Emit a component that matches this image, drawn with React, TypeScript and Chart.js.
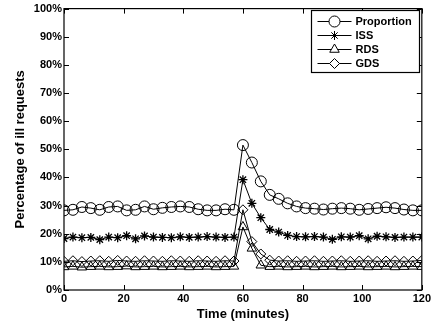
import React, { useEffect, useRef } from "react";
import { Chart, registerables } from "chart.js";
import { drawPoint } from "chart.js/helpers";

Chart.register(...registerables);

const minutes = [0,3,6,9,12,15,18,21,24,27,30,33,36,39,42,45,48,51,54,57,60,63,66,69,72,75,78,81,84,87,90,93,96,99,102,105,108,111,114,117,120];

const proportion = [28.3,28.5,29.5,29.1,28.5,29.5,29.7,28.3,28.5,29.7,28.7,29.2,29.5,29.7,29.5,28.7,28.3,28.3,28.7,28.5,51.5,45.3,38.6,33.8,32.4,30.8,29.7,29.1,28.9,28.6,28.9,29.1,28.9,28.5,28.8,29.1,29.4,29.1,28.6,28.3,28.3];

const iss = [18.3,18.8,18.6,18.7,17.9,18.8,18.6,19.3,18.2,19.2,18.8,18.7,18.6,18.9,18.7,18.8,19.0,18.8,18.7,18.8,39.2,30.8,25.7,21.5,20.6,19.4,19.0,18.9,19.0,18.8,18.0,18.9,18.8,19.3,18.2,19.1,18.9,18.7,18.8,18.8,18.8];

const rds = [8.2,8.4,8.1,8.3,8.4,8.2,8.3,8.5,8.2,8.3,8.4,8.2,8.3,8.4,8.2,8.3,8.4,8.2,8.3,8.4,22.4,14.8,8.8,8.3,8.4,8.2,8.3,8.4,8.2,8.3,8.4,8.2,8.3,8.4,8.2,8.3,8.4,8.2,8.3,8.4,8.3];

const gds = [10.2,10.4,10.1,10.3,10.4,10.2,10.5,10.3,10.2,10.4,10.3,10.2,10.4,10.3,10.2,10.4,10.3,10.2,10.4,10.3,28.5,17.2,12.8,10.6,10.3,10.4,10.2,10.3,10.4,10.2,10.3,10.4,10.2,10.3,10.4,10.2,10.3,10.4,10.2,10.3,10.5];

const seriesLabels = ["Proportion", "ISS", "RDS", "GDS"];
const xTicks = [0, 20, 40, 60, 80, 100, 120];
const yTicks = [0, 10, 20, 30, 40, 50, 60, 70, 80, 90, 100];

const FONT = "'Liberation Sans', Arial, Helvetica, sans-serif";

const innerTicks = {
  id: "innerTicks",
  afterDraw(chart: any) {
    const { ctx, chartArea, scales } = chart;
    const len = 5;
    ctx.save();
    ctx.strokeStyle = "#000";
    ctx.lineWidth = 1;
    ctx.beginPath();
    xTicks.forEach((v) => {
      const px = Math.round(scales.x.getPixelForValue(v)) + 0.5;
      ctx.moveTo(px, chartArea.bottom);
      ctx.lineTo(px, chartArea.bottom - len);
      ctx.moveTo(px, chartArea.top);
      ctx.lineTo(px, chartArea.top + len);
    });
    yTicks.forEach((v) => {
      const py = Math.round(scales.y.getPixelForValue(v)) + 0.5;
      ctx.moveTo(chartArea.left, py);
      ctx.lineTo(chartArea.left + len, py);
      ctx.moveTo(chartArea.right, py);
      ctx.lineTo(chartArea.right - len, py);
    });
    ctx.stroke();
    ctx.lineWidth = 1.2;
    ctx.strokeRect(chartArea.left, chartArea.top, chartArea.right - chartArea.left, chartArea.bottom - chartArea.top);
    ctx.restore();
  },
};

const boxLegend = {
  id: "boxLegend",
  afterDraw(chart: any) {
    const { ctx, chartArea } = chart;
    const w = 108;
    const h = 62;
    const x0 = Math.round(chartArea.right - w - 3) + 0.5;
    const y0 = Math.round(chartArea.top + 1) + 0.5;
    ctx.save();
    ctx.fillStyle = "#fff";
    ctx.fillRect(x0, y0, w, h);
    ctx.strokeStyle = "#000";
    ctx.lineWidth = 1.2;
    ctx.strokeRect(x0, y0, w, h);
    ctx.font = `bold 11px ${FONT}`;
    ctx.textBaseline = "middle";
    chart.data.datasets.forEach((ds: any, i: number) => {
      const cy = y0 + 11 + i * 14;
      ctx.strokeStyle = "#000";
      ctx.lineWidth = 1;
      ctx.beginPath();
      ctx.moveTo(x0 + 6, cy);
      ctx.lineTo(x0 + 40, cy);
      ctx.stroke();
      ctx.fillStyle = "#fff";
      drawPoint(ctx, { pointStyle: ds.pointStyle, radius: ds.pointRadius, rotation: 0, borderWidth: 1 }, x0 + 23, cy);
      ctx.fillStyle = "#000";
      ctx.fillText(ds.label, x0 + 44, cy + 0.5);
    });
    ctx.restore();
  },
};

function mk(label: string, values: number[], style: string, radius: number, bw: number) {
  return {
    label,
    data: values.map((v, i) => ({ x: minutes[i], y: v })),
    borderColor: "#000",
    borderWidth: 1,
    pointStyle: style,
    pointRadius: radius,
    pointBorderColor: "#000",
    pointBorderWidth: bw,
    pointBackgroundColor: "rgba(0,0,0,0)",
    fill: false,
    tension: 0,
  };
}

export default function App() {
  const ref = useRef<HTMLCanvasElement>(null);
  useEffect(() => {
    document.body.style.margin = "0";
    const chart = new Chart(ref.current!, {
      type: "line",
      data: {
        datasets: [
          mk(seriesLabels[0], proportion, "circle", 5.5, 1),
          mk(seriesLabels[1], iss, "star", 4.5, 1.3),
          mk(seriesLabels[2], rds, "triangle", 5.5, 1),
          mk(seriesLabels[3], gds, "rectRot", 5, 1),
        ],
      },
      options: {
        animation: false,
        responsive: false,
        maintainAspectRatio: false,
        layout: { padding: { left: 0, right: 0, top: 0, bottom: 0 } },
        plugins: { legend: { display: false }, tooltip: { enabled: false } },
        scales: {
          x: {
            type: "linear",
            min: 0,
            max: 120,
            afterBuildTicks: (s: any) => { s.ticks = xTicks.map((v) => ({ value: v })); },
            afterFit: (s: any) => { s.height = 35; },
            grid: { display: false, drawTicks: false },
            border: { display: false },
            ticks: { color: "#000", font: { family: FONT, size: 11, weight: "bold" }, padding: 2, maxRotation: 0 },
            title: { display: true, text: "Time (minutes)", color: "#000", font: { family: FONT, size: 13, weight: "bold" }, padding: { top: 0, bottom: 3 } },
          },
          y: {
            min: 0,
            max: 100,
            afterBuildTicks: (s: any) => { s.ticks = yTicks.map((v) => ({ value: v })); },
            afterFit: (s: any) => { s.width = 64; },
            grid: { display: false, drawTicks: false },
            border: { display: false },
            ticks: { color: "#000", font: { family: FONT, size: 11, weight: "bold" }, padding: 2, callback: (v: any) => `${v}%` },
            title: { display: true, text: "Percentage of ill requests", color: "#000", font: { family: FONT, size: 13, weight: "bold" }, padding: { top: 13, bottom: 0 } },
          },
        },
      },
      plugins: [innerTicks, boxLegend],
    } as any);
    return () => chart.destroy();
  }, []);
  return (
    <div style={{ width: 433, height: 325 }}>
      <canvas ref={ref} width={433} height={325} style={{ display: "block" }} />
    </div>
  );
}
